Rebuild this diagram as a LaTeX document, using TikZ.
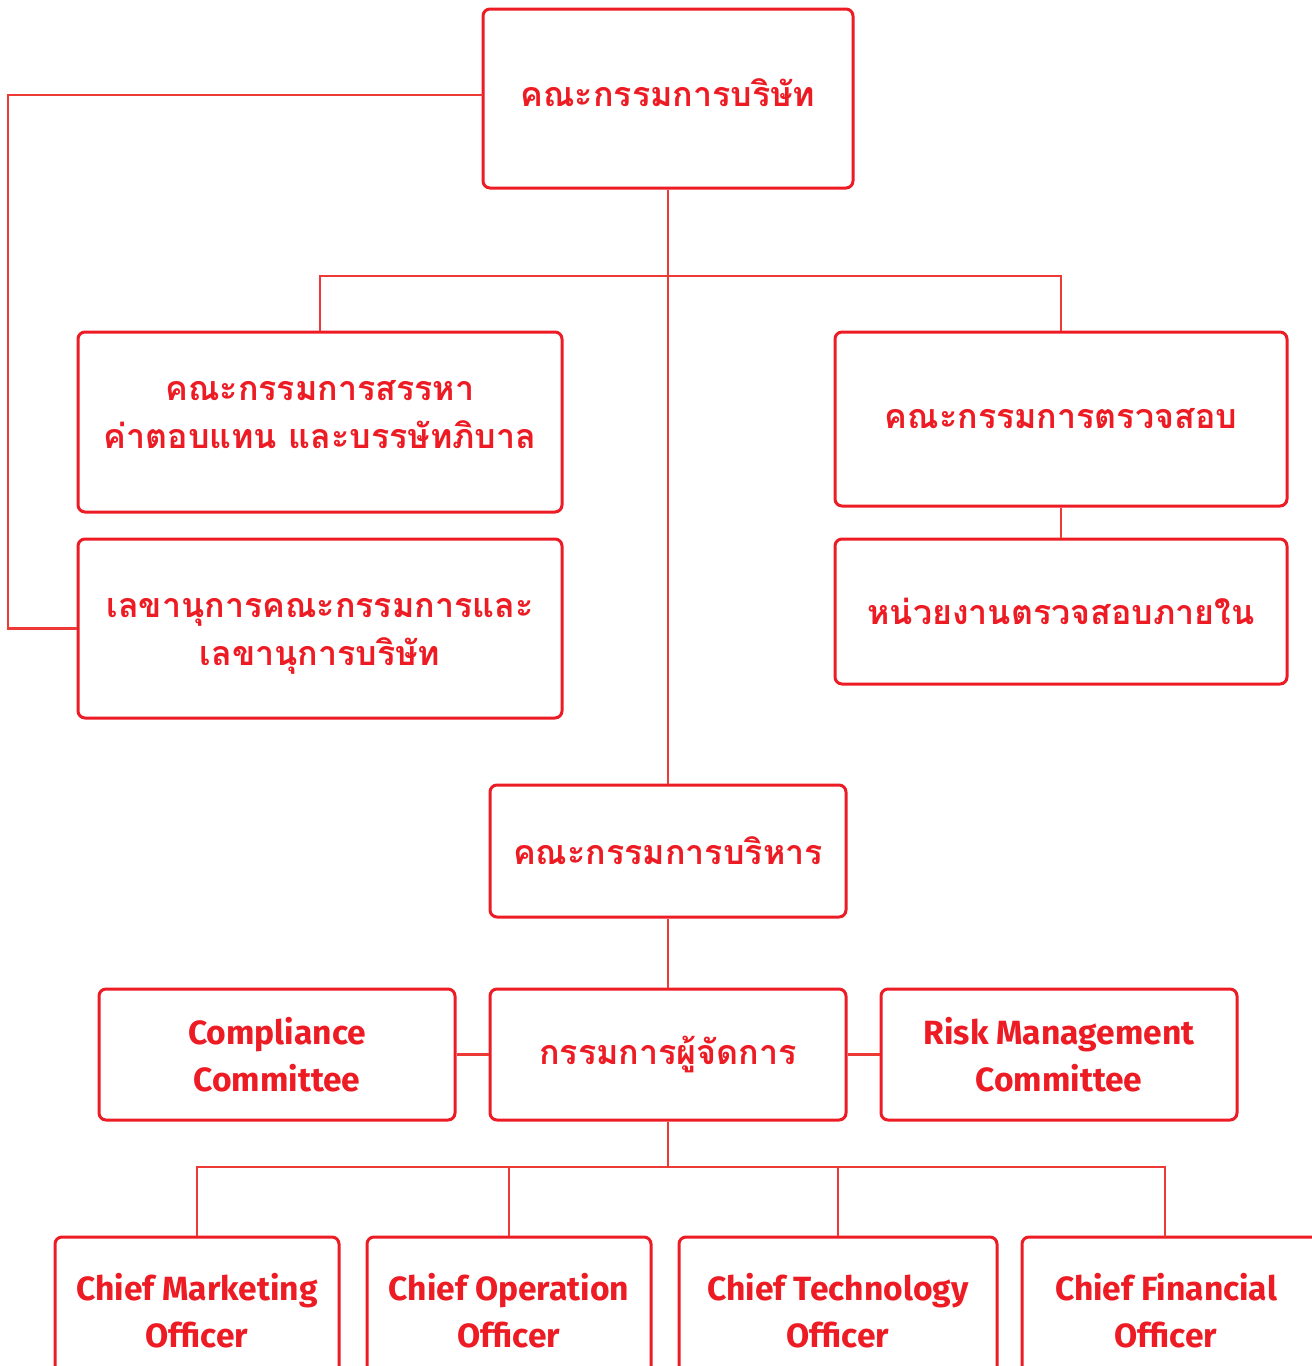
\documentclass[tikz,border=0pt]{standalone}
\usepackage{fontspec}
\setmainfont{Fira Sans}
\newfontfamily\thaifont[Script=Thai]{Loma}
\definecolor{xred}{HTML}{ED1C24}
\definecolor{lred}{HTML}{EE3A36}
\newcommand\shifttext[2]{\raisebox{#1}[\height][\depth]{\begin{tabular}{@{}c@{}}#2\end{tabular}}}
\begin{document}
\begin{tikzpicture}[x=0.5pt,y=-0.5pt,
  box/.style={draw=xred,line width=1.5pt,rounded corners=3.5pt,inner sep=0pt,align=center,text=xred,fill=white},
  thai/.style={font=\thaifont\bfseries\fontsize{17}{24}\selectfont},
  eng/.style={font=\bfseries\fontsize{16.8}{23.5}\selectfont},
  conn/.style={draw=lred,line width=1.1pt}]
\useasboundingbox (0,0) rectangle (1312,1366);
\clip (0,0) rectangle (1312,1366);
% nodes
\node[box,thai,minimum width=185pt,minimum height=89.5pt] (top) at (668,98.5) {\shifttext{1pt}{คณะกรรมการบริษัท}};
\node[box,thai,minimum width=242pt,minimum height=90pt] (A) at (320,422) {\shifttext{3.5pt}{คณะกรรมการสรรหา\\ค่าตอบแทน และบรรษัทภิบาล}};
\node[box,thai,minimum width=242pt,minimum height=89.5pt] (B) at (320,628.5) {\shifttext{-1.5pt}{เลขานุการคณะกรรมการและ\\เลขานุการบริษัท}};
\node[box,thai,minimum width=226pt,minimum height=87pt] (C) at (1061,419) {คณะกรรมการตรวจสอบ};
\node[box,thai,minimum width=226pt,minimum height=72.5pt] (D) at (1061,611.5) {หน่วยงานตรวจสอบภายใน};
\node[box,thai,minimum width=178pt,minimum height=66pt] (E) at (668,851) {คณะกรรมการบริหาร};
\node[box,thai,minimum width=178pt,minimum height=65.5pt] (F) at (668,1054.5) {กรรมการผู้จัดการ};
\node[box,eng,minimum width=178pt,minimum height=65.5pt] (G) at (277,1054.5) {Compliance\\Committee};
\node[box,eng,minimum width=178pt,minimum height=65.5pt] (H) at (1059,1054.5) {Risk Management\\Committee};
\node[box,eng,minimum width=142pt,minimum height=74pt] (K1) at (197,1311) {Chief Marketing\\Officer};
\node[box,eng,minimum width=142pt,minimum height=74pt] (K2) at (509,1311) {Chief Operation\\Officer};
\node[box,eng,minimum width=159pt,minimum height=74pt] (K3) at (838,1311) {Chief Technology\\Officer};
\node[box,eng,minimum width=160pt,minimum height=74pt] (K4) at (1182,1311) {\shifttext{-2pt}{Chief Financial\\Officer}\hspace*{16pt}};
% coordinates
\coordinate (tw) at (483,95);
\coordinate (lc) at (8,628.5);
\coordinate (j1) at (668,276);
\coordinate (j2) at (668,1167);
\coordinate (k4t) at (1165,1237);
% connectors
\draw[conn] (tw) -| (lc) -- (B.west);
\draw[conn] (top.south) -- (E.north);
\draw[conn] (A.north) |- (j1) -| (C.north);
\draw[conn] (C.south) -- (D.north);
\draw[conn] (E.south) -- (F.north);
\draw[conn] (G.east) -- (F.west);
\draw[conn] (F.east) -- (H.west);
\draw[conn] (F.south) -- (j2);
\draw[conn] (K1.north) |- (j2) -| (k4t);
\draw[conn] (K2.north) -- (K2.north |- j2);
\draw[conn] (K3.north) -- (K3.north |- j2);
\end{tikzpicture}
\end{document}
